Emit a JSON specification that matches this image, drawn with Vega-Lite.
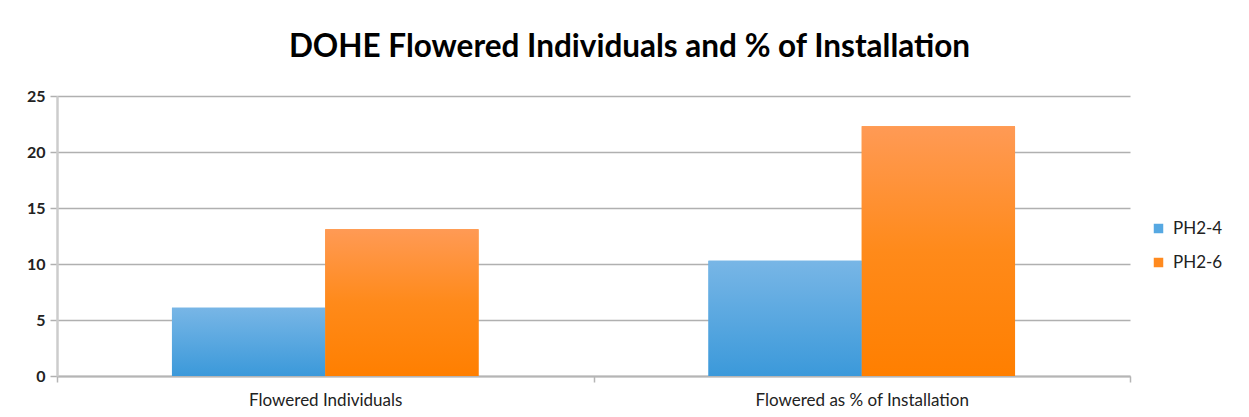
{
  "$schema": "https://vega.github.io/schema/vega-lite/v6.json",
  "width": 1073,
  "height": 280,
  "autosize": {"type": "none"},
  "padding": {"left": 57, "top": 96, "right": 119, "bottom": 41},
  "background": "white",
  "title": {
    "text": "DOHE Flowered Individuals and % of Installation",
    "font": "Lato",
    "fontWeight": "bold",
    "fontSize": 31.5,
    "color": "#000000",
    "anchor": "middle",
    "dx": 36,
    "offset": 25
  },
  "data": {
    "values": [
      {"category": "Flowered Individuals", "series": "PH2-4", "value": 6.1},
      {"category": "Flowered Individuals", "series": "PH2-6", "value": 13.1},
      {"category": "Flowered as % of Installation", "series": "PH2-4", "value": 10.3},
      {"category": "Flowered as % of Installation", "series": "PH2-6", "value": 22.3}
    ]
  },
  "encoding": {
    "x": {
      "field": "category",
      "type": "nominal",
      "sort": null,
      "scale": {"paddingInner": 0, "paddingOuter": 0},
      "axis": {
        "title": null,
        "labelAngle": 0,
        "labelFont": "Lato",
        "labelFontSize": 17,
        "labelColor": "#222222",
        "labelPadding": 10,
        "labelLimit": 0,
        "domainColor": "#b5b5b5",
        "domainWidth": 2,
        "tickBand": "extent",
        "tickColor": "#b5b5b5",
        "tickWidth": 1.5,
        "tickSize": 6
      }
    },
    "xOffset": {"field": "series", "type": "nominal", "sort": ["PH2-4", "PH2-6"], "scale": {"paddingInner": 0, "paddingOuter": 0.75}},
    "y": {
      "field": "value",
      "type": "quantitative",
      "scale": {"domain": [0, 25]},
      "axis": {
        "title": null,
        "values": [0, 5, 10, 15, 20, 25],
        "labelFont": "Lato",
        "labelFontSize": 16,
        "labelFontWeight": "bold",
        "labelColor": "#222222",
        "labelPadding": 5,
        "grid": true,
        "gridColor": "#b0b0b0",
        "gridWidth": 1.5,
        "domainColor": "#cccccc",
        "domainWidth": 2.5,
        "tickColor": "#b0b0b0",
        "tickWidth": 1.5,
        "tickSize": 7
      }
    }
  },
  "layer": [
    {
      "mark": {"type": "bar"},
      "encoding": {
        "color": {
          "field": "series",
          "type": "nominal",
          "scale": {"domain": ["PH2-4", "PH2-6"], "range": ["#56a8e2", "#ff8a1f"]},
          "legend": {
            "title": null,
            "orient": "none",
            "legendX": 1093,
            "legendY": 124,
            "symbolType": "square",
            "symbolSize": 90,
            "symbolStrokeWidth": 0,
            "labelFont": "Lato",
            "labelFontSize": 17,
            "labelColor": "#222222",
            "rowPadding": 16,
            "labelOffset": 6
          }
        }
      }
    },
    {
      "transform": [{"filter": "datum.series === 'PH2-4'"}],
      "mark": {
        "type": "bar",
        "color": {
          "gradient": "linear",
          "x1": 0, "y1": 0, "x2": 0, "y2": 1,
          "stops": [
            {"offset": 0, "color": "#78b6e6"},
            {"offset": 1, "color": "#3b99da"}
          ]
        }
      }
    },
    {
      "transform": [{"filter": "datum.series === 'PH2-6'"}],
      "mark": {
        "type": "bar",
        "color": {
          "gradient": "linear",
          "x1": 0, "y1": 0, "x2": 0, "y2": 1,
          "stops": [
            {"offset": 0, "color": "#ff9a55"},
            {"offset": 0.5, "color": "#ff8a1a"},
            {"offset": 1, "color": "#ff7f00"}
          ]
        }
      }
    }
  ],
  "config": {"view": {"stroke": null}}
}
